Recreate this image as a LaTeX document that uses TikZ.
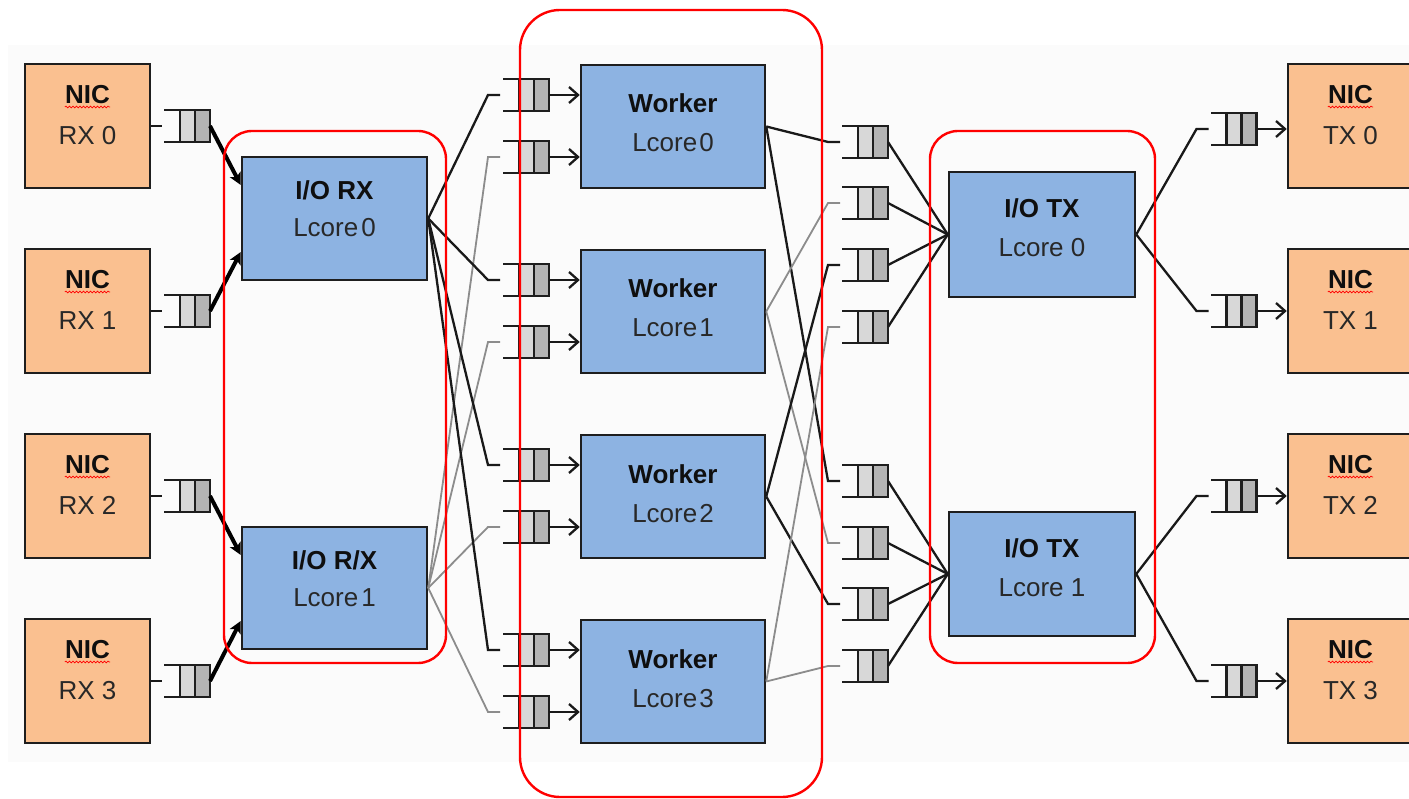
\documentclass[tikz,border=0pt]{standalone}
\usepackage{fontspec}
\setmainfont{Liberation Sans}
\usetikzlibrary{arrows.meta,decorations.pathmorphing,calc}

\definecolor{nicfill}{RGB}{250,192,144}
\definecolor{corefill}{RGB}{141,179,226}
\definecolor{boxline}{RGB}{30,30,30}
\definecolor{qlight}{RGB}{216,216,216}
\definecolor{qdark}{RGB}{180,180,180}
\definecolor{wire}{RGB}{25,25,25}
\definecolor{wiregray}{RGB}{140,140,140}
\definecolor{grp}{RGB}{255,0,0}
\definecolor{panel}{RGB}{251,251,251}
\definecolor{txtdark}{RGB}{15,15,15}
\definecolor{txtreg}{RGB}{40,40,40}

\newlength\lcorewd

\tikzset{
  nicbox/.style={draw=boxline, line width=2.5pt, fill=nicfill,
    minimum width=125pt, minimum height=124pt, inner sep=0pt},
  corebox/.style={draw=boxline, line width=2.5pt, fill=corefill,
    minimum width=185pt, minimum height=123pt, inner sep=0pt},
  qcells/.style={rectangle, draw=boxline, line width=2.4pt, outer sep=0pt,
    minimum width=30pt, minimum height=32pt, inner sep=0pt,
    path picture={
      \fill[qlight] (path picture bounding box.south west) rectangle (path picture bounding box.north);
      \fill[qdark] (path picture bounding box.south) rectangle (path picture bounding box.north east);
      \draw[boxline, line width=2.4pt] (path picture bounding box.south) -- (path picture bounding box.north);
    }},
  qmouth/.style={draw=boxline, line width=2.4pt},
  titletext/.style={font=\bfseries\fontsize{26}{30}\selectfont, text=txtdark, inner sep=0pt, anchor=base},
  subtext/.style={font=\fontsize{26}{30}\selectfont, text=txtreg, inner sep=0pt, anchor=base},
  group/.style={draw=grp, line width=2.4pt, rounded corners=#1},
  group/.default=28pt,
  feed/.style={draw=black, line width=4pt, -{Stealth[length=12pt,width=12pt,inset=3pt]}},
  link/.style={draw=wire, line width=2.3pt},
  linkgray/.style={draw=wiregray, line width=1.8pt},
  push/.style={draw=wire, line width=2.3pt, -{Straight Barb[length=9pt,width=16pt,line width=2.3pt]}},
  squig/.style={draw=red, line width=0.7pt, decorate,
    decoration={snake, amplitude=0.9pt, segment length=3.5pt}},
}

\begin{document}
\begin{tikzpicture}[x=1pt,y=-1pt]
\settowidth{\lcorewd}{\fontsize{26}{30}\selectfont Lcore}
\useasboundingbox (0,0) rectangle (1409,799);
\clip (0,0) rectangle (1409,799);
\fill[white] (0,0) rectangle (1409,799);
\fill[panel] (8,45) rectangle (1409,762);

% NIC ports with their descriptor rings
\foreach \i/\y/\r in {0/126/129,1/311/311,2/496/496,3/681/681}{
  \node[nicbox] (rx\i) at (87.5,\y) {};
  \node[titletext] (rx\i-t) at (87.5,\y-22.5) {NIC};
  \node[subtext] (rx\i-s) at (87.5,\y+18.5) {RX \i};
  \node[qcells] (rq\i) at (195,\y) {};
  \node[nicbox] (tx\i) at (1350.5,\y) {};
  \node[titletext] (tx\i-t) at (1350.5,\y-22.5) {NIC};
  \node[subtext] (tx\i-s) at (1350.5,\y+18.5) {TX \i};
  \node[qcells] (tq\i) at (1241.5,\r) {};
}

% I/O RX lcores
\node[corebox] (ior0) at (334.5,218.5) {};
\node[titletext] (ior0-t) at (334.5,200) {I/O RX};
\node[subtext] (ior0-l) at (334.5,237) {Lcore\hspace{3pt}0};
\node[corebox, minimum height=122pt] (ior1) at (334.5,588) {};
\node[titletext] (ior1-t) at (334.5,569.5) {I/O R/X};
\node[subtext] (ior1-l) at (334.5,606.5) {Lcore\hspace{3pt}1};

% worker lcores with their input rings
\foreach \i/\y in {0/126.5,1/311.5,2/496.5,3/681.5}{
  \node[corebox, minimum width=184pt] (w\i) at (673,\y) {};
  \node[titletext] (w\i-t) at (673,\y-13.5) {Worker};
  \node[subtext] (w\i-l) at (673,\y+25.5) {Lcore\hspace{2pt}\i};
  \node[qcells] (wq\i-a) at (534,\y-31.5) {};
  \node[qcells] (wq\i-b) at (534,\y+30.5) {};
}

% I/O TX lcores
\node[corebox, minimum width=186pt, minimum height=125pt] (iot0) at (1042,234.5) {};
\node[titletext] (iot0-t) at (1042,218) {I/O TX};
\node[subtext] (iot0-l) at (1042,257) {Lcore 0};
\node[corebox, minimum width=186pt, minimum height=124pt] (iot1) at (1042,574) {};
\node[titletext] (iot1-t) at (1042,557.5) {I/O TX};
\node[subtext] (iot1-l) at (1042,596.5) {Lcore 1};

% output rings in front of the I/O TX lcores
\foreach \i/\y in {0/142,1/203,2/265,3/327,4/481,5/543,6/604,7/666}
  \node[qcells] (mq\i) at (873,\y) {};

% open ends of every ring
\foreach \q in {rq0,rq1,rq2,rq3,tq0,tq1,tq2,tq3,
                wq0-a,wq0-b,wq1-a,wq1-b,wq2-a,wq2-b,wq3-a,wq3-b,
                mq0,mq1,mq2,mq3,mq4,mq5,mq6,mq7}
  \draw[qmouth] (\q.north west) -- +(-16pt,0) (\q.south west) -- +(-16pt,0);

% spell-check marks under the labels
\foreach \n in {rx0,rx1,rx2,rx3,tx0,tx1,tx2,tx3}
  \draw[squig] ([yshift=-3.5pt]\n-t.base west) -- ([yshift=-3.5pt]\n-t.base east);
\foreach \n in {ior0,ior1,w0,w1,w2,w3,iot0,iot1}
  \draw[squig] ([yshift=-3.5pt]\n-l.base west) -- ++(\lcorewd,0);

% NIC RX -> rings -> I/O RX
\foreach \i in {0,...,3}
  \draw[link] (rx\i.east) -- ([xshift=-18pt]rq\i.west);
\draw[feed] (rq0.east) -- ([yshift=33.5pt]ior0.west);
\draw[feed] (rq1.east) -- ([yshift=-33.5pt]ior0.west);
\draw[feed] (rq2.east) -- ([yshift=33pt]ior1.west);
\draw[feed] (rq3.east) -- ([yshift=-33pt]ior1.west);

% I/O RX -> worker rings -> workers
\foreach \i in {0,...,3}{
  \draw[link] (ior0.east) -- ([xshift=-31pt]wq\i-a.west) -- ([xshift=-19pt]wq\i-a.west);
  \draw[linkgray] (ior1.east) -- ([xshift=-31pt]wq\i-b.west) -- ([xshift=-19pt]wq\i-b.west);
  \draw[push] (wq\i-a.east) -- (wq\i-a.east -| w\i.west);
  \draw[push] (wq\i-b.east) -- (wq\i-b.east -| w\i.west);
}

% workers -> output rings
\foreach \w/\a/\b/\s in {0/0/4/link,1/1/5/linkgray,2/2/6/link,3/3/7/linkgray}{
  \draw[\s] (w\w.east) -- ([xshift=-30pt]mq\a.west) -- ([xshift=-18pt]mq\a.west);
  \draw[\s] (w\w.east) -- ([xshift=-30pt]mq\b.west) -- ([xshift=-18pt]mq\b.west);
}

% output rings -> I/O TX
\foreach \i in {0,...,3} \draw[link] (mq\i.east) -- (iot0.west);
\foreach \i in {4,...,7} \draw[link] (mq\i.east) -- (iot1.west);

% I/O TX -> NIC TX rings -> NIC TX
\foreach \i in {0,1}
  \draw[link] (iot0.east) -- ([xshift=-30pt]tq\i.west) -- ([xshift=-18pt]tq\i.west);
\foreach \i in {2,3}
  \draw[link] (iot1.east) -- ([xshift=-30pt]tq\i.west) -- ([xshift=-18pt]tq\i.west);
\foreach \i in {0,...,3}
  \draw[push] (tq\i.east) -- (tq\i.east -| tx\i.west);

% lcore groups
\draw[group] (224,131) rectangle (446,663);
\draw[group=40pt] (520,10) rectangle (822,797);
\draw[group] (930,131) rectangle (1155,663);
\end{tikzpicture}
\end{document}
